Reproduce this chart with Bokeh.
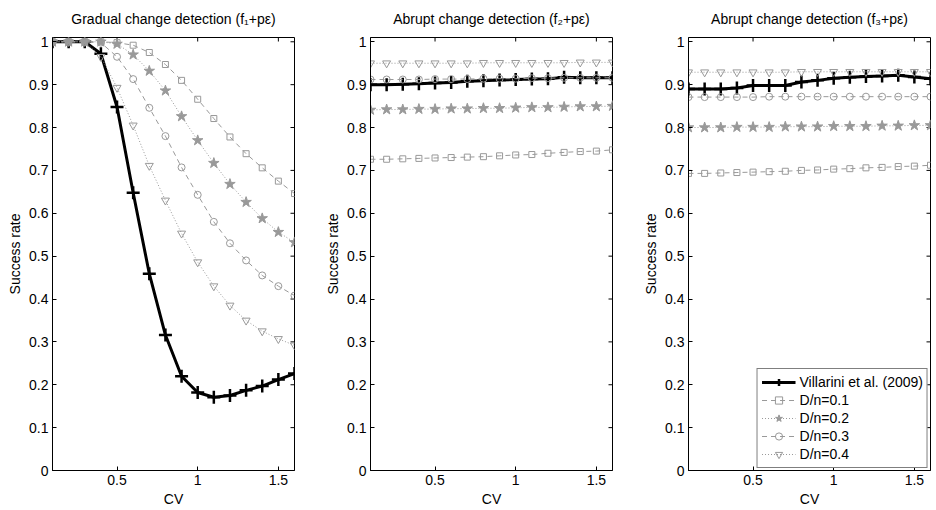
import math
from bokeh.plotting import figure
from bokeh.layouts import row
from bokeh.models import Range1d, FixedTicker, CustomJSTickFormatter, Legend
from bokeh.embed import file_html
from bokeh.resources import INLINE

# ---- data ----
cv = [0.1, 0.2, 0.3, 0.4, 0.5, 0.6, 0.7, 0.8, 0.9, 1.0, 1.1, 1.2, 1.3, 1.4, 1.5, 1.6]

titles = ["Gradual change detection (f\u2081+p\u03b5)",
          "Abrupt change detection (f\u2082+p\u03b5)",
          "Abrupt change detection (f\u2083+p\u03b5)"]

series_names = ["Villarini et al. (2009)", "D/n=0.1", "D/n=0.2", "D/n=0.3", "D/n=0.4"]

# panel 1: gradual change (f1 + p eps)
vill_1 = [1.0, 1.0, 1.0, 0.972, 0.848, 0.648, 0.459, 0.316, 0.220, 0.182, 0.171, 0.175, 0.187, 0.197, 0.212, 0.226]
d01_1 = [1.0, 1.0, 1.0, 1.0, 0.998, 0.992, 0.975, 0.947, 0.910, 0.866, 0.821, 0.778, 0.739, 0.706, 0.675, 0.646]
d02_1 = [1.0, 1.0, 1.0, 1.0, 0.995, 0.970, 0.932, 0.886, 0.826, 0.770, 0.717, 0.668, 0.626, 0.588, 0.556, 0.532]
d03_1 = [1.0, 1.0, 1.0, 0.998, 0.965, 0.913, 0.846, 0.780, 0.707, 0.643, 0.580, 0.530, 0.490, 0.455, 0.430, 0.408]
d04_1 = [1.0, 1.0, 1.0, 0.965, 0.893, 0.805, 0.711, 0.630, 0.553, 0.486, 0.430, 0.385, 0.350, 0.325, 0.307, 0.292]

# panel 2: abrupt change (f2 + p eps)
vill_2 = [0.900, 0.900, 0.901, 0.902, 0.904, 0.905, 0.908, 0.909, 0.911, 0.912, 0.913, 0.914, 0.917, 0.916, 0.916, 0.916]
d01_2 = [0.726, 0.726, 0.727, 0.728, 0.729, 0.730, 0.731, 0.732, 0.734, 0.736, 0.737, 0.740, 0.742, 0.744, 0.745, 0.748]
d02_2 = [0.841, 0.842, 0.842, 0.843, 0.843, 0.844, 0.844, 0.845, 0.845, 0.846, 0.847, 0.847, 0.848, 0.849, 0.849, 0.850]
d03_2 = [0.912, 0.912, 0.912, 0.912, 0.913, 0.913, 0.913, 0.914, 0.914, 0.914, 0.915, 0.915, 0.916, 0.916, 0.916, 0.916]
d04_2 = [0.950, 0.950, 0.950, 0.950, 0.950, 0.950, 0.950, 0.951, 0.951, 0.951, 0.951, 0.951, 0.951, 0.952, 0.952, 0.952]

# panel 3: abrupt change (f3 + p eps)
vill_3 = [0.890, 0.890, 0.890, 0.892, 0.898, 0.898, 0.898, 0.906, 0.910, 0.915, 0.917, 0.919, 0.920, 0.922, 0.918, 0.914]
d01_3 = [0.693, 0.693, 0.694, 0.695, 0.696, 0.697, 0.698, 0.700, 0.701, 0.703, 0.704, 0.706, 0.707, 0.709, 0.710, 0.712]
d02_3 = [0.800, 0.800, 0.800, 0.801, 0.801, 0.801, 0.802, 0.802, 0.802, 0.803, 0.803, 0.803, 0.804, 0.804, 0.805, 0.805]
d03_3 = [0.871, 0.871, 0.871, 0.871, 0.871, 0.872, 0.872, 0.872, 0.872, 0.872, 0.872, 0.872, 0.872, 0.872, 0.872, 0.872]
d04_3 = [0.929, 0.929, 0.929, 0.929, 0.929, 0.929, 0.929, 0.930, 0.930, 0.930, 0.930, 0.930, 0.930, 0.930, 0.930, 0.930]

panels = [
    [vill_1, d01_1, d02_1, d03_1, d04_1],
    [vill_2, d01_2, d02_2, d03_2, d04_2],
    [vill_3, d01_3, d02_3, d03_3, d04_3],
]

x_ticks = [0.5, 1.0, 1.5]
y_ticks = [0, 0.1, 0.2, 0.3, 0.4, 0.5, 0.6, 0.7, 0.8, 0.9, 1.0]
x_lim = (0.1, 1.6)
y_lim = (0, 1.01)

FONT = "Liberation Sans"
FS = "14px"
GRAY = "#999999"
fmt_code = "return String(Math.round(tick*10)/10)"

styles = [
    dict(line_color="black", line_width=3, line_dash="solid", marker="cross", size=13,
         m_line_width=2.5, fill=None, m_color="black"),
    dict(line_color=GRAY, line_width=1, line_dash="5 4", marker="square", size=6,
         m_line_width=1, fill=None, m_color=GRAY),
    dict(line_color=GRAY, line_width=1, line_dash="1 2", marker="star", size=11,
         m_line_width=1, fill=GRAY, m_color=GRAY),
    dict(line_color=GRAY, line_width=1, line_dash="5 4", marker="circle", size=7,
         m_line_width=1, fill=None, m_color=GRAY),
    dict(line_color=GRAY, line_width=1, line_dash="1 2", marker="inverted_triangle", size=8,
         m_line_width=1, fill=None, m_color=GRAY),
]

borders = [(52, 5), (71, 5), (71, 6)]

figs = []
for i in range(3):
    bl, br = borders[i]
    p = figure(frame_width=242, frame_height=433,
               x_range=Range1d(*x_lim), y_range=Range1d(*y_lim),
               output_backend="svg", toolbar_location=None,
               min_border_left=bl, min_border_right=br,
               min_border_top=37, min_border_bottom=38,
               title=titles[i])
    p.title.text_font = FONT
    p.title.text_font_size = FS
    p.title.text_font_style = "normal"
    p.title.align = "center"
    p.title.vertical_align = "top"
    p.title.text_color = "black"
    p.title.standoff = 18
    p.grid.visible = False
    p.outline_line_color = "black"
    p.outline_line_alpha = 1.0
    p.background_fill_color = "white"
    p.border_fill_color = "white"

    p.xaxis.ticker = FixedTicker(ticks=x_ticks)
    p.yaxis.ticker = FixedTicker(ticks=y_ticks)
    p.xaxis.formatter = CustomJSTickFormatter(code=fmt_code)
    p.yaxis.formatter = CustomJSTickFormatter(code=fmt_code)
    p.xaxis.axis_label = "CV"
    p.yaxis.axis_label = "Success rate"
    for ax in (p.xaxis[0], p.yaxis[0]):
        ax.major_tick_in = 4
        ax.major_tick_out = 0
        ax.minor_tick_in = 0
        ax.minor_tick_out = 0
        ax.axis_line_color = "black"
        ax.major_tick_line_color = "black"
        ax.major_label_text_font = FONT
        ax.major_label_text_font_size = FS
        ax.major_label_text_color = "black"
        ax.axis_label_text_font = FONT
        ax.axis_label_text_font_size = FS
        ax.axis_label_text_font_style = "normal"
        ax.axis_label_text_color = "black"
        ax.major_label_standoff = 4
        ax.axis_label_standoff = 3

    # box ticks on top and right edges (pointing inward)
    p.ray(x=x_ticks, y=[y_lim[1]] * len(x_ticks), length=4, length_units="screen",
          angle=-math.pi / 2, line_color="black", line_width=1)
    p.ray(x=[x_lim[1]] * len(y_ticks), y=y_ticks, length=4, length_units="screen",
          angle=math.pi, line_color="black", line_width=1)

    items = []
    for k, (ys, st) in enumerate(zip(panels[i], styles)):
        r1 = p.line(cv, ys, line_color=st["line_color"], line_width=st["line_width"],
                    line_dash=st["line_dash"])
        r2 = p.scatter(cv, ys, marker=st["marker"], size=st["size"],
                       line_color=st["m_color"], line_width=st["m_line_width"],
                       fill_color=st["fill"])
        items.append((series_names[k], [r1, r2]))

    if i == 2:
        leg = Legend(items=items, location="bottom_right")
        leg.label_text_font = FONT
        leg.label_text_font_size = FS
        leg.label_text_color = "black"
        leg.border_line_color = "black"
        leg.border_line_width = 1
        leg.background_fill_alpha = 1.0
        leg.padding = 4
        leg.spacing = 0
        leg.margin = 2
        leg.glyph_width = 34
        leg.glyph_height = 18
        leg.label_height = 18
        leg.label_standoff = 4
        p.add_layout(leg, "center")
    figs.append(p)

layout = row(*figs)
open("out.html", "w").write(file_html(layout, INLINE))
